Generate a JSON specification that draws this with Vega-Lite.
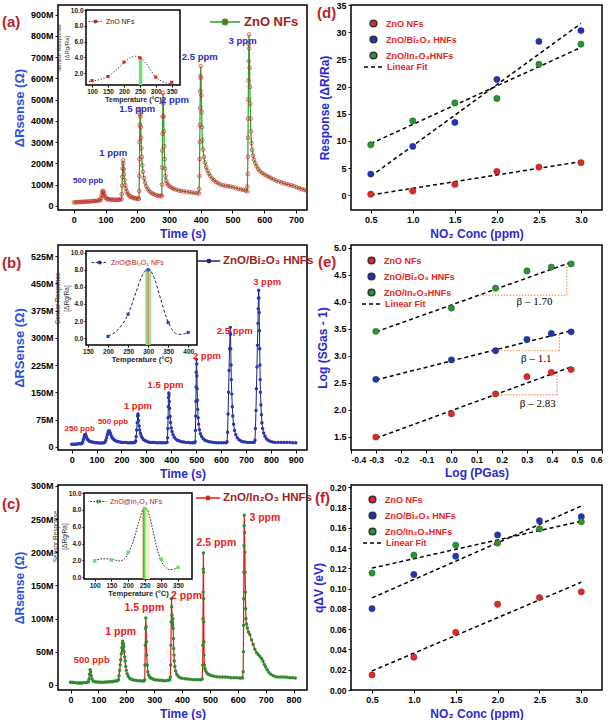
{
"$schema": "https://vega.github.io/schema/vega-lite/v6.json",
"padding": {"left": 1, "top": 0, "right": 0, "bottom": 0},
"bounds": "flush",
"columns": 2,
"spacing": {"row": 35, "column": 44},
"resolve": {"scale": {"color": "independent", "strokeDash": "independent", "stroke": "independent"}},
"datasets": {
"a": [{"t":0,"v":16},{"t":5,"v":16},{"t":10,"v":17},{"t":15,"v":17},{"t":20,"v":18},{"t":25,"v":18},{"t":30,"v":18},{"t":35,"v":19},{"t":40,"v":19},{"t":45,"v":20},{"t":50,"v":20},{"t":55,"v":21},{"t":60,"v":22},{"t":65,"v":22},{"t":70,"v":23},{"t":75,"v":24},{"t":80,"v":25},{"t":84,"v":27},{"t":86,"v":36},{"t":88,"v":50},{"t":90,"v":63},{"t":91,"v":70},{"t":93,"v":67},{"t":95,"v":57},{"t":97,"v":47},{"t":100,"v":39},{"t":103,"v":34},{"t":107,"v":31},{"t":111,"v":30},{"t":116,"v":29},{"t":121,"v":29},{"t":126,"v":28},{"t":131,"v":28},{"t":136,"v":28},{"t":141,"v":29},{"t":146,"v":29},{"t":150,"v":30},{"t":151,"v":55},{"t":152,"v":95},{"t":153,"v":135},{"t":154,"v":175},{"t":155,"v":214},{"t":156,"v":198},{"t":157,"v":172},{"t":158,"v":148},{"t":160,"v":120},{"t":162,"v":97},{"t":164,"v":80},{"t":167,"v":66},{"t":170,"v":56},{"t":174,"v":48},{"t":178,"v":43},{"t":183,"v":40},{"t":188,"v":37},{"t":193,"v":35},{"t":198,"v":34},{"t":203,"v":33},{"t":205,"v":34},{"t":206,"v":70},{"t":206.5,"v":140},{"t":207,"v":220},{"t":207.5,"v":300},{"t":208,"v":380},{"t":208.5,"v":430},{"t":209,"v":454},{"t":210,"v":420},{"t":211,"v":370},{"t":212,"v":320},{"t":213,"v":270},{"t":214,"v":230},{"t":216,"v":190},{"t":218,"v":160},{"t":221,"v":130},{"t":224,"v":110},{"t":228,"v":92},{"t":233,"v":78},{"t":238,"v":68},{"t":244,"v":61},{"t":250,"v":56},{"t":256,"v":52},{"t":262,"v":49},{"t":268,"v":46},{"t":274,"v":45},{"t":277,"v":48},{"t":278,"v":100},{"t":278.5,"v":180},{"t":279,"v":260},{"t":279.5,"v":340},{"t":280,"v":420},{"t":280.5,"v":490},{"t":281,"v":532},{"t":282,"v":480},{"t":283,"v":420},{"t":284,"v":350},{"t":285,"v":280},{"t":286,"v":220},{"t":287,"v":175},{"t":289,"v":140},{"t":291,"v":118},{"t":294,"v":105},{"t":298,"v":96},{"t":303,"v":90},{"t":309,"v":84},{"t":315,"v":80},{"t":322,"v":76},{"t":330,"v":72},{"t":338,"v":70},{"t":346,"v":68},{"t":355,"v":66},{"t":364,"v":64},{"t":372,"v":62},{"t":380,"v":61},{"t":388,"v":59},{"t":394,"v":58},{"t":395,"v":80},{"t":396,"v":140},{"t":396.5,"v":220},{"t":397,"v":300},{"t":397.5,"v":380},{"t":398,"v":460},{"t":398.5,"v":540},{"t":399,"v":610},{"t":400,"v":657},{"t":401,"v":600},{"t":402,"v":520},{"t":403,"v":440},{"t":404,"v":370},{"t":405,"v":310},{"t":407,"v":265},{"t":410,"v":230},{"t":413,"v":203},{"t":417,"v":182},{"t":421,"v":166},{"t":425,"v":152},{"t":430,"v":140},{"t":436,"v":128},{"t":442,"v":120},{"t":448,"v":112},{"t":455,"v":106},{"t":462,"v":100},{"t":470,"v":96},{"t":478,"v":94},{"t":486,"v":92},{"t":494,"v":90},{"t":502,"v":87},{"t":510,"v":84},{"t":518,"v":80},{"t":526,"v":77},{"t":534,"v":75},{"t":541,"v":72},{"t":546,"v":68},{"t":547,"v":90},{"t":548,"v":150},{"t":548.5,"v":230},{"t":549,"v":320},{"t":549.5,"v":410},{"t":550,"v":500},{"t":550.5,"v":590},{"t":551,"v":680},{"t":551.5,"v":760},{"t":552,"v":806},{"t":553,"v":740},{"t":554,"v":650},{"t":555,"v":560},{"t":556,"v":480},{"t":557,"v":410},{"t":558,"v":350},{"t":560,"v":295},{"t":562,"v":262},{"t":565,"v":236},{"t":568,"v":216},{"t":572,"v":200},{"t":576,"v":186},{"t":581,"v":173},{"t":587,"v":162},{"t":594,"v":154},{"t":601,"v":147},{"t":608,"v":141},{"t":615,"v":136},{"t":622,"v":130},{"t":630,"v":124},{"t":638,"v":118},{"t":646,"v":114},{"t":654,"v":110},{"t":662,"v":106},{"t":670,"v":102},{"t":678,"v":99},{"t":686,"v":96},{"t":694,"v":92},{"t":702,"v":87},{"t":710,"v":83},{"t":718,"v":79},{"t":726,"v":75},{"t":734,"v":71}],
"b": [{"t":0,"v":7},{"t":6,"v":7},{"t":12,"v":7},{"t":18,"v":7},{"t":24,"v":8},{"t":30,"v":8},{"t":36,"v":8},{"t":41,"v":9},{"t":44,"v":13},{"t":47,"v":20},{"t":50,"v":27},{"t":52,"v":31},{"t":54,"v":34},{"t":56,"v":33},{"t":58,"v":29},{"t":61,"v":24},{"t":64,"v":20},{"t":68,"v":17},{"t":72,"v":15},{"t":77,"v":14},{"t":83,"v":13},{"t":89,"v":12},{"t":96,"v":11},{"t":103,"v":11},{"t":110,"v":10},{"t":117,"v":10},{"t":124,"v":10},{"t":130,"v":11},{"t":134,"v":13},{"t":137,"v":18},{"t":140,"v":25},{"t":143,"v":33},{"t":146,"v":40},{"t":149,"v":44},{"t":152,"v":43},{"t":155,"v":38},{"t":158,"v":32},{"t":161,"v":27},{"t":165,"v":23},{"t":169,"v":20},{"t":174,"v":17},{"t":180,"v":15},{"t":187,"v":14},{"t":194,"v":13},{"t":201,"v":12},{"t":209,"v":12},{"t":217,"v":12},{"t":225,"v":11},{"t":233,"v":11},{"t":241,"v":11},{"t":248,"v":11},{"t":254,"v":12},{"t":257,"v":16},{"t":259,"v":28},{"t":261,"v":46},{"t":263,"v":66},{"t":265,"v":84},{"t":266,"v":90},{"t":267,"v":86},{"t":269,"v":72},{"t":271,"v":57},{"t":273,"v":46},{"t":276,"v":37},{"t":279,"v":30},{"t":283,"v":25},{"t":288,"v":20},{"t":294,"v":17},{"t":300,"v":15},{"t":308,"v":13},{"t":316,"v":12},{"t":324,"v":12},{"t":332,"v":12},{"t":341,"v":11},{"t":350,"v":11},{"t":359,"v":11},{"t":368,"v":11},{"t":377,"v":11},{"t":383,"v":12},{"t":385,"v":25},{"t":386,"v":50},{"t":387,"v":80},{"t":388,"v":110},{"t":389,"v":135},{"t":390,"v":148},{"t":391,"v":142},{"t":392,"v":125},{"t":393,"v":106},{"t":395,"v":84},{"t":397,"v":67},{"t":400,"v":52},{"t":403,"v":42},{"t":407,"v":33},{"t":412,"v":26},{"t":418,"v":21},{"t":425,"v":18},{"t":433,"v":16},{"t":441,"v":14},{"t":450,"v":13},{"t":459,"v":12},{"t":468,"v":12},{"t":477,"v":11},{"t":486,"v":11},{"t":493,"v":11},{"t":496,"v":14},{"t":497,"v":45},{"t":498,"v":85},{"t":499,"v":125},{"t":499.5,"v":165},{"t":500,"v":205},{"t":501,"v":241},{"t":502,"v":228},{"t":503,"v":195},{"t":504,"v":160},{"t":505,"v":128},{"t":506,"v":103},{"t":508,"v":80},{"t":510,"v":62},{"t":513,"v":47},{"t":517,"v":36},{"t":522,"v":28},{"t":528,"v":22},{"t":535,"v":18},{"t":543,"v":16},{"t":551,"v":14},{"t":560,"v":13},{"t":570,"v":12},{"t":580,"v":11},{"t":590,"v":11},{"t":600,"v":11},{"t":610,"v":11},{"t":620,"v":11},{"t":624,"v":14},{"t":626,"v":40},{"t":628,"v":90},{"t":630,"v":150},{"t":632,"v":210},{"t":634,"v":270},{"t":636,"v":315},{"t":637,"v":329},{"t":638,"v":310},{"t":639,"v":270},{"t":640,"v":225},{"t":641,"v":185},{"t":643,"v":145},{"t":645,"v":110},{"t":647,"v":85},{"t":650,"v":62},{"t":654,"v":45},{"t":659,"v":33},{"t":665,"v":25},{"t":672,"v":19},{"t":680,"v":16},{"t":688,"v":14},{"t":697,"v":13},{"t":706,"v":12},{"t":715,"v":12},{"t":724,"v":12},{"t":733,"v":12},{"t":736,"v":18},{"t":738,"v":50},{"t":740,"v":100},{"t":742,"v":160},{"t":744,"v":220},{"t":746,"v":280},{"t":748,"v":340},{"t":749,"v":380},{"t":750,"v":410},{"t":751,"v":431},{"t":752,"v":410},{"t":753,"v":370},{"t":754,"v":320},{"t":755,"v":270},{"t":756,"v":225},{"t":757,"v":185},{"t":758,"v":150},{"t":760,"v":115},{"t":762,"v":88},{"t":764,"v":66},{"t":767,"v":50},{"t":771,"v":38},{"t":776,"v":29},{"t":782,"v":22},{"t":789,"v":18},{"t":797,"v":15},{"t":806,"v":13},{"t":816,"v":12},{"t":828,"v":12},{"t":840,"v":12},{"t":852,"v":12},{"t":864,"v":12},{"t":876,"v":12},{"t":888,"v":11},{"t":900,"v":11}],
"c": [{"t":0,"v":4},{"t":6,"v":4},{"t":12,"v":3.5},{"t":18,"v":3.5},{"t":24,"v":3},{"t":30,"v":3},{"t":36,"v":3},{"t":42,"v":3},{"t":48,"v":3.5},{"t":54,"v":3.5},{"t":60,"v":4},{"t":64,"v":5},{"t":66,"v":9},{"t":68,"v":16},{"t":70,"v":23},{"t":72,"v":20},{"t":74,"v":14},{"t":77,"v":9},{"t":81,"v":6},{"t":86,"v":5},{"t":92,"v":4.5},{"t":99,"v":4.5},{"t":106,"v":4},{"t":113,"v":4},{"t":120,"v":4},{"t":127,"v":4.5},{"t":134,"v":4.5},{"t":141,"v":5},{"t":148,"v":5},{"t":155,"v":5.5},{"t":162,"v":6},{"t":168,"v":6.5},{"t":172,"v":8},{"t":174,"v":14},{"t":176,"v":22},{"t":178,"v":30},{"t":180,"v":38},{"t":182,"v":47},{"t":184,"v":56},{"t":186,"v":63},{"t":187,"v":66},{"t":188,"v":60},{"t":189,"v":52},{"t":190,"v":62},{"t":191,"v":58},{"t":192,"v":50},{"t":194,"v":42},{"t":196,"v":36},{"t":198,"v":28},{"t":200,"v":22},{"t":203,"v":17},{"t":207,"v":13},{"t":212,"v":10},{"t":218,"v":8.5},{"t":225,"v":7.5},{"t":233,"v":7},{"t":241,"v":6.5},{"t":249,"v":6.5},{"t":257,"v":6},{"t":263,"v":6},{"t":266,"v":8},{"t":267,"v":30},{"t":268,"v":60},{"t":269,"v":85},{"t":270,"v":101},{"t":271,"v":88},{"t":272,"v":65},{"t":273,"v":45},{"t":275,"v":30},{"t":277,"v":20},{"t":280,"v":15},{"t":284,"v":12},{"t":289,"v":10},{"t":295,"v":9},{"t":302,"v":8},{"t":310,"v":7.5},{"t":318,"v":7},{"t":326,"v":7},{"t":334,"v":6.5},{"t":342,"v":6.5},{"t":350,"v":7},{"t":356,"v":8},{"t":358,"v":12},{"t":359,"v":30},{"t":360,"v":60},{"t":361,"v":95},{"t":362,"v":130},{"t":363,"v":118},{"t":364,"v":105},{"t":365,"v":95},{"t":366,"v":90},{"t":367,"v":100},{"t":368,"v":85},{"t":369,"v":70},{"t":370,"v":55},{"t":371,"v":45},{"t":372,"v":36},{"t":374,"v":28},{"t":377,"v":21},{"t":381,"v":16},{"t":386,"v":13},{"t":392,"v":11},{"t":400,"v":10},{"t":410,"v":9.5},{"t":420,"v":9},{"t":430,"v":8.5},{"t":440,"v":8},{"t":450,"v":8},{"t":460,"v":8},{"t":468,"v":8},{"t":472,"v":9},{"t":474,"v":30},{"t":474.5,"v":60},{"t":475,"v":100},{"t":475.5,"v":140},{"t":476,"v":175},{"t":476.5,"v":199},{"t":477,"v":170},{"t":477.5,"v":130},{"t":478,"v":95},{"t":478.5,"v":65},{"t":479,"v":45},{"t":480,"v":30},{"t":482,"v":25},{"t":485,"v":21},{"t":489,"v":18},{"t":494,"v":16},{"t":500,"v":15},{"t":507,"v":14},{"t":515,"v":13},{"t":525,"v":12.5},{"t":535,"v":12},{"t":545,"v":12},{"t":555,"v":12},{"t":565,"v":11.5},{"t":575,"v":11},{"t":585,"v":11},{"t":595,"v":11},{"t":605,"v":10.5},{"t":612,"v":10.5},{"t":617,"v":11},{"t":619,"v":20},{"t":620,"v":50},{"t":620.5,"v":90},{"t":621,"v":130},{"t":621.5,"v":170},{"t":622,"v":210},{"t":622.5,"v":240},{"t":623,"v":256},{"t":624,"v":230},{"t":625,"v":200},{"t":626,"v":170},{"t":627,"v":140},{"t":628,"v":115},{"t":629,"v":100},{"t":631,"v":92},{"t":634,"v":86},{"t":638,"v":80},{"t":643,"v":76},{"t":649,"v":68},{"t":655,"v":61},{"t":661,"v":54},{"t":667,"v":49},{"t":673,"v":46},{"t":679,"v":43},{"t":685,"v":40},{"t":690,"v":36},{"t":695,"v":31},{"t":700,"v":27},{"t":705,"v":23},{"t":711,"v":19},{"t":718,"v":16},{"t":727,"v":14},{"t":736,"v":12.5},{"t":746,"v":12},{"t":756,"v":12},{"t":766,"v":12},{"t":776,"v":11.5},{"t":786,"v":11},{"t":796,"v":11},{"t":806,"v":10.5}],
"aLab": [{"label":"500 ppb","t":45,"v":117},{"label":"1 ppm","t":124,"v":247},{"label":"1.5 ppm","t":200,"v":454},{"label":"2 ppm","t":319,"v":498},{"label":"2.5 ppm","t":397,"v":700},{"label":"3 ppm","t":532,"v":775}],
"bLab": [{"label":"250 ppb","t":32,"v":49},{"label":"500 ppb","t":166,"v":69},{"label":"1 ppm","t":266,"v":111},{"label":"1.5 ppm","t":377,"v":171},{"label":"2 ppm","t":543,"v":250},{"label":"2.5 ppm","t":655,"v":318},{"label":"3 ppm","t":785,"v":454}],
"cLab": [{"label":"500 ppb","t":76,"v":38},{"label":"1 ppm","t":180,"v":80},{"label":"1.5 ppm","t":265,"v":116},{"label":"2 ppm","t":416,"v":134},{"label":"2.5 ppm","t":523,"v":214},{"label":"3 ppm","t":697,"v":251}],
"aIn": [{"T":100,"r":1.05},{"T":150,"r":1.57},{"T":200,"r":3.4},{"T":250,"r":3.95},{"T":300,"r":1.5},{"T":350,"r":0.85}],
"aCurve": [{"T":90,"r":0.95},{"T":100,"r":1.0},{"T":125,"r":1.2},{"T":150,"r":1.6},{"T":175,"r":2.4},{"T":200,"r":3.3},{"T":220,"r":3.95},{"T":240,"r":4.15},{"T":255,"r":3.9},{"T":270,"r":3.2},{"T":285,"r":2.3},{"T":300,"r":1.5},{"T":320,"r":0.95},{"T":340,"r":0.7},{"T":355,"r":0.65}],
"bIn": [{"T":200,"r":0.2},{"T":250,"r":2.8},{"T":300,"r":8.0},{"T":350,"r":1.83},{"T":400,"r":0.66}],
"bCurve": [{"T":200,"r":0.25},{"T":225,"r":1.0},{"T":250,"r":2.8},{"T":270,"r":5.4},{"T":285,"r":7.3},{"T":300,"r":8.1},{"T":315,"r":7.1},{"T":330,"r":4.8},{"T":345,"r":2.5},{"T":360,"r":1.0},{"T":375,"r":0.45},{"T":390,"r":0.5},{"T":400,"r":0.7}],
"cIn": [{"T":100,"r":1.96},{"T":150,"r":2.04},{"T":200,"r":2.94},{"T":250,"r":8.16},{"T":300,"r":2.16},{"T":350,"r":1.18}],
"cCurve": [{"T":100,"r":2.0},{"T":125,"r":2.2},{"T":150,"r":2.15},{"T":175,"r":1.95},{"T":190,"r":2.2},{"T":200,"r":2.8},{"T":215,"r":4.2},{"T":230,"r":6.2},{"T":245,"r":8.0},{"T":252,"r":8.2},{"T":262,"r":7.6},{"T":275,"r":5.5},{"T":290,"r":3.0},{"T":300,"r":1.9},{"T":315,"r":1.1},{"T":325,"r":0.9},{"T":340,"r":1.0},{"T":350,"r":1.2}],
"d": [{"s":"ZnO NFs","c":0.5,"r":0.2},{"s":"ZnO NFs","c":1,"r":0.8},{"s":"ZnO NFs","c":1.5,"r":2.0},{"s":"ZnO NFs","c":2,"r":4.4},{"s":"ZnO NFs","c":2.5,"r":5.2},{"s":"ZnO NFs","c":3,"r":6.0},
{"s":"ZnO/Bi₂O₃ HNFs","c":0.5,"r":3.9},{"s":"ZnO/Bi₂O₃ HNFs","c":1,"r":9.0},{"s":"ZnO/Bi₂O₃ HNFs","c":1.5,"r":13.4},{"s":"ZnO/Bi₂O₃ HNFs","c":2,"r":21.3},{"s":"ZnO/Bi₂O₃ HNFs","c":2.5,"r":28.3},{"s":"ZnO/Bi₂O₃ HNFs","c":3,"r":30.3},
{"s":"ZnO/In₂O₃HNFs","c":0.5,"r":9.3},{"s":"ZnO/In₂O₃HNFs","c":1,"r":13.7},{"s":"ZnO/In₂O₃HNFs","c":1.5,"r":17.0},{"s":"ZnO/In₂O₃HNFs","c":2,"r":17.8},{"s":"ZnO/In₂O₃HNFs","c":2.5,"r":24.1},{"s":"ZnO/In₂O₃HNFs","c":3,"r":27.8}],
"dFit": [{"s":"ZnO NFs","c0":0.5,"r0":0.06,"c1":3,"r1":6.2},{"s":"ZnO/Bi₂O₃ HNFs","c0":0.5,"r0":3.5,"c1":3,"r1":31.6},{"s":"ZnO/In₂O₃HNFs","c0":0.5,"r0":9.5,"c1":3,"r1":27.2}],
"e": [{"s":"ZnO NFs","c":-0.301,"r":1.49},{"s":"ZnO NFs","c":0,"r":1.92},{"s":"ZnO NFs","c":0.176,"r":2.29},{"s":"ZnO NFs","c":0.301,"r":2.61},{"s":"ZnO NFs","c":0.398,"r":2.69},{"s":"ZnO NFs","c":0.477,"r":2.74},
{"s":"ZnO/Bi₂O₃ HNFs","c":-0.301,"r":2.56},{"s":"ZnO/Bi₂O₃ HNFs","c":0,"r":2.92},{"s":"ZnO/Bi₂O₃ HNFs","c":0.176,"r":3.09},{"s":"ZnO/Bi₂O₃ HNFs","c":0.301,"r":3.30},{"s":"ZnO/Bi₂O₃ HNFs","c":0.398,"r":3.41},{"s":"ZnO/Bi₂O₃ HNFs","c":0.477,"r":3.44},
{"s":"ZnO/In₂O₃HNFs","c":-0.301,"r":3.45},{"s":"ZnO/In₂O₃HNFs","c":0,"r":3.88},{"s":"ZnO/In₂O₃HNFs","c":0.176,"r":4.25},{"s":"ZnO/In₂O₃HNFs","c":0.301,"r":4.57},{"s":"ZnO/In₂O₃HNFs","c":0.398,"r":4.64},{"s":"ZnO/In₂O₃HNFs","c":0.477,"r":4.70}],
"eFit": [{"s":"ZnO NFs","c0":-0.3,"r0":1.47,"c1":0.477,"r1":2.79},{"s":"ZnO/Bi₂O₃ HNFs","c0":-0.3,"r0":2.55,"c1":0.477,"r1":3.46},{"s":"ZnO/In₂O₃HNFs","c0":-0.3,"r0":3.44,"c1":0.477,"r1":4.73}],
"eTri": [{"x0":0.113,"y0":4.12,"x1":0.46,"y1":4.12},{"x0":0.46,"y0":4.12,"x1":0.46,"y1":4.70},{"x0":0.185,"y0":3.09,"x1":0.43,"y1":3.09},{"x0":0.43,"y0":3.09,"x1":0.43,"y1":3.40},{"x0":0.185,"y0":2.27,"x1":0.421,"y1":2.27},{"x0":0.421,"y0":2.27,"x1":0.421,"y1":2.71}],
"eLab": [{"label":"β – 1.70","x":0.331,"y":3.99},{"label":"β – 1.1","x":0.338,"y":2.94},{"label":"β – 2.83","x":0.344,"y":2.10}],
"f": [{"s":"ZnO NFs","c":0.5,"r":0.0149},{"s":"ZnO NFs","c":1,"r":0.0324},{"s":"ZnO NFs","c":1.5,"r":0.0569},{"s":"ZnO NFs","c":2,"r":0.0846},{"s":"ZnO NFs","c":2.5,"r":0.0912},{"s":"ZnO NFs","c":3,"r":0.0969},
{"s":"ZnO/Bi₂O₃ HNFs","c":0.5,"r":0.0803},{"s":"ZnO/Bi₂O₃ HNFs","c":1,"r":0.114},{"s":"ZnO/Bi₂O₃ HNFs","c":1.5,"r":0.132},{"s":"ZnO/Bi₂O₃ HNFs","c":2,"r":0.153},{"s":"ZnO/Bi₂O₃ HNFs","c":2.5,"r":0.167},{"s":"ZnO/Bi₂O₃ HNFs","c":3,"r":0.171},
{"s":"ZnO/In₂O₃HNFs","c":0.5,"r":0.1154},{"s":"ZnO/In₂O₃HNFs","c":1,"r":0.133},{"s":"ZnO/In₂O₃HNFs","c":1.5,"r":0.143},{"s":"ZnO/In₂O₃HNFs","c":2,"r":0.145},{"s":"ZnO/In₂O₃HNFs","c":2.5,"r":0.159},{"s":"ZnO/In₂O₃HNFs","c":3,"r":0.166}],
"fFit": [{"s":"ZnO NFs","c0":0.5,"r0":0.0188,"c1":3,"r1":0.1064},{"s":"ZnO/Bi₂O₃ HNFs","c0":0.5,"r0":0.0909,"c1":3,"r1":0.1815},{"s":"ZnO/In₂O₃HNFs","c0":0.5,"r0":0.1203,"c1":3,"r1":0.1666}]
},
"concat": [
{
"width": 249, "height": 205,
"title": {"text": "(a)", "anchor": "start", "frame": "group", "orient": "top", "offset": 0, "baseline": "middle", "dx": -56, "dy": 32, "fontSize": 15, "fontWeight": "bold", "color": "#c0202a"},
"layer": [
 {"layer": [
  {"data": {"name": "a"}, "mark": {"type": "line", "strokeWidth": 1.2, "clip": true},
   "encoding": {
    "x": {"field": "t", "type": "quantitative", "scale": {"domain": [-50, 735], "nice": false, "zero": false}, "axis": {"values": [0,100,200,300,400,500,600,700], "tickCount": 40, "labelOverlap": false, "title": "Time (s)"}},
    "y": {"field": "v", "type": "quantitative", "scale": {"domain": [-20, 945], "nice": false, "zero": false}, "axis": {"values": [0,100,200,300,400,500,600,700,800,900], "tickCount": 40, "labelOverlap": false, "labelExpr": "datum.value == 0 ? '0' : datum.value + 'M'", "title": "ΔRsense (Ω)", "titleFontSize": 13, "titleColor": "#2f4fe0"}},
    "stroke": {"datum": "ZnO NFs", "type": "nominal", "scale": {"range": ["#2ca02c"]},
      "legend": {"orient": "none", "legendX": 151, "legendY": 1, "title": null, "symbolType": "M-1,0L1,0M0.18,0A0.18,0.18,0,1,1,-0.18,0A0.18,0.18,0,1,1,0.18,0", "symbolSize": 900, "symbolStrokeWidth": 1.5, "symbolFillColor": "#e02020", "labelFontSize": 13, "labelFontWeight": "bold", "labelColor": "#a51c1c", "labelOffset": 3, "padding": 0,
        "encode": {"symbols": {"update": {"fill": {"value": "#e02020"}}}}}}
   }},
  {"data": {"name": "a"}, "mark": {"type": "point", "filled": false, "color": "#d42020", "size": 14, "strokeWidth": 1, "clip": true},
   "encoding": {"x": {"field": "t", "type": "quantitative"}, "y": {"field": "v", "type": "quantitative"}}},
  {"data": {"name": "aLab"}, "mark": {"type": "text", "fontWeight": "bold", "color": "#2b2bc8"},
   "encoding": {"x": {"field": "t", "type": "quantitative"}, "y": {"field": "v", "type": "quantitative"}, "text": {"field": "label"},
     "size": {"condition": {"test": "indexof(datum.label, 'ppb') >= 0", "value": 8}, "value": 9.5}}}
 ]},
 {"layer": [
  {"data": {"values": [{}]}, "mark": {"type": "rect", "fill": "white", "stroke": "black", "strokeWidth": 1.5},
   "encoding": {
    "x": {"datum": 81, "type": "quantitative", "scale": {"domain": [81, 376], "range": [28, 122], "nice": false, "zero": false},
      "axis": {"orient": "bottom", "offset": -125, "values": [100,150,200,250,300,350], "tickCount": 40, "labelOverlap": false, "title": "Temperature (°C)", "titleFontSize": 7, "titleColor": "#222", "titlePadding": 1, "labelFontSize": 6.5, "labelColor": "#222", "tickSize": 2, "labelPadding": 1}},
    "x2": {"datum": 376},
    "y": {"datum": 0.5, "type": "quantitative", "scale": {"domain": [0.5, 10], "range": [80, 5], "nice": false, "zero": false},
      "axis": {"orient": "left", "offset": -28, "values": [2,4,6,8,10], "tickCount": 40, "labelOverlap": false, "title": ["Sensor Response", "[ΔRg/Ra]"], "titleFontSize": 6, "titleFontWeight": "normal", "titleColor": "#333", "titlePadding": 1, "labelFontSize": 6.5, "labelColor": "#222", "tickSize": 2, "labelPadding": 1}},
    "y2": {"datum": 10}
   }},
  {"data": {"values": [{}]}, "mark": {"type": "rule", "color": "#6ee06e", "strokeWidth": 3.5},
   "encoding": {"x": {"datum": 252, "type": "quantitative"}, "y": {"datum": 0.5, "type": "quantitative"}, "y2": {"datum": 3.95}}},
  {"data": {"name": "aCurve"}, "mark": {"type": "line", "strokeDash": [1.2, 1.8], "strokeWidth": 1, "interpolate": "monotone"},
   "encoding": {"x": {"field": "T", "type": "quantitative"}, "y": {"field": "r", "type": "quantitative"},
    "stroke": {"datum": "ZnO NFs", "type": "nominal", "scale": {"range": ["#333333"]},
      "legend": {"orient": "none", "legendX": 30, "legendY": 9, "title": null, "symbolType": "M-1,0L1,0M0.25,0A0.25,0.25,0,1,1,-0.25,0A0.25,0.25,0,1,1,0.25,0", "symbolSize": 200, "symbolStrokeWidth": 0.8, "symbolDash": [1.5, 1.5], "labelFontSize": 7, "labelColor": "#222", "labelFontWeight": "normal", "padding": 0, "labelOffset": 3,
        "encode": {"symbols": {"update": {"fill": {"value": "#e82020"}}}}}}}},
  {"data": {"name": "aIn"}, "mark": {"type": "square", "color": "#e82020", "size": 10, "opacity": 1},
   "encoding": {"x": {"field": "T", "type": "quantitative"}, "y": {"field": "r", "type": "quantitative"}}}
 ]}
],
"resolve": {"scale": {"x": "independent", "y": "independent", "stroke": "independent"}}
},
{
"width": 251, "height": 205,
"title": {"text": "(d)", "anchor": "start", "frame": "group", "orient": "top", "offset": 0, "baseline": "middle", "dx": -34, "dy": 27, "fontSize": 15, "fontWeight": "bold", "color": "#c0202a"},
"layer": [
 {"data": {"name": "dFit"}, "mark": {"type": "rule", "strokeWidth": 1.5, "color": "black"},
  "encoding": {
   "x": {"field": "c0", "type": "quantitative", "scale": {"domain": [0.265, 3.25], "nice": false, "zero": false}, "axis": {"values": [0.5,1,1.5,2,2.5,3], "tickCount": 40, "labelOverlap": false, "format": ".1f", "title": "NO₂ Conc (ppm)"}},
   "x2": {"field": "c1"},
   "y": {"field": "r0", "type": "quantitative", "scale": {"domain": [-2.7, 35], "nice": false, "zero": false}, "axis": {"values": [0,5,10,15,20,25,30,35], "tickCount": 40, "title": "Response (ΔR/Ra)", "labelOverlap": false}},
   "y2": {"field": "r1"},
   "detail": {"field": "s"},
   "strokeDash": {"datum": "Linear Fit", "type": "nominal", "scale": {"range": [[4, 3]]},
     "legend": {"orient": "none", "legendX": 12, "legendY": 51, "title": null, "symbolType": "stroke", "symbolStrokeColor": "black", "symbolSize": 400, "symbolStrokeWidth": 1.5, "labelFontSize": 9, "labelFontWeight": "bold", "labelColor": "#e8231f", "labelOffset": 2, "padding": 0}}
  }},
 {"data": {"name": "d"}, "mark": {"type": "circle", "size": 40, "opacity": 1, "stroke": "#333", "strokeWidth": 0.4},
  "encoding": {"x": {"field": "c", "type": "quantitative"}, "y": {"field": "r", "type": "quantitative"},
   "color": {"field": "s", "type": "nominal", "scale": {"domain": ["ZnO NFs", "ZnO/Bi₂O₃ HNFs", "ZnO/In₂O₃HNFs"], "range": ["#ee2222", "#2233bb", "#22992a"]},
     "legend": {"orient": "none", "legendX": 18, "legendY": 14, "title": null, "symbolSize": 45, "labelOffset": 8, "labelFontSize": 9, "labelFontWeight": "bold", "labelColor": "#e8231f", "padding": 0, "rowPadding": 3}}}}
]
},
{
"width": 249, "height": 205,
"title": {"text": "(b)", "anchor": "start", "frame": "group", "orient": "top", "offset": 0, "baseline": "middle", "dx": -56, "dy": 33, "fontSize": 15, "fontWeight": "bold", "color": "#c0202a"},
"layer": [
 {"layer": [
  {"data": {"name": "b"}, "mark": {"type": "line", "strokeWidth": 1, "clip": true},
   "encoding": {
    "x": {"field": "t", "type": "quantitative", "scale": {"domain": [-55, 945], "nice": false, "zero": false}, "axis": {"values": [0,100,200,300,400,500,600,700,800,900], "tickCount": 40, "title": "Time (s)", "labelOverlap": false}},
    "y": {"field": "v", "type": "quantitative", "scale": {"domain": [-9, 556], "nice": false, "zero": false}, "axis": {"values": [0,75,150,225,300,375,450,525], "tickCount": 40, "labelExpr": "datum.value == 0 ? '0' : datum.value + 'M'", "title": "ΔRSense (Ω)", "titleFontSize": 13, "titleColor": "#2f4fe0", "labelOverlap": false}},
    "stroke": {"datum": "ZnO/Bi₂O₃ HNFs", "type": "nominal", "scale": {"range": ["#1a237e"]},
      "legend": {"orient": "none", "legendX": 139, "legendY": 4, "title": null, "symbolType": "M-1,0L1,0M0.15,0A0.15,0.15,0,1,1,-0.15,0A0.15,0.15,0,1,1,0.15,0", "symbolSize": 500, "symbolStrokeWidth": 1.3, "labelFontSize": 11.5, "labelFontWeight": "bold", "labelColor": "#a51c1c", "labelOffset": 2, "padding": 0,
        "encode": {"symbols": {"update": {"fill": {"value": "#3040c0"}}}}}}
   }},
  {"data": {"name": "b"}, "mark": {"type": "circle", "color": "#2a35b5", "size": 12, "opacity": 1, "clip": true},
   "encoding": {"x": {"field": "t", "type": "quantitative"}, "y": {"field": "v", "type": "quantitative"}}},
  {"data": {"name": "bLab"}, "mark": {"type": "text", "fontWeight": "bold", "color": "#ee2020"},
   "encoding": {"x": {"field": "t", "type": "quantitative"}, "y": {"field": "v", "type": "quantitative"}, "text": {"field": "label"},
     "size": {"condition": {"test": "indexof(datum.label, 'ppb') >= 0", "value": 8}, "value": 9.5}}}
 ]},
 {"layer": [
  {"data": {"values": [{}]}, "mark": {"type": "rect", "fill": "white", "stroke": "black", "strokeWidth": 1.5},
   "encoding": {
    "x": {"datum": 145, "type": "quantitative", "scale": {"domain": [145, 422], "range": [28, 139], "nice": false, "zero": false},
      "axis": {"orient": "bottom", "offset": -105, "values": [150,200,250,300,350,400], "tickCount": 40, "labelOverlap": false, "title": "Temperature (°C)", "titleFontSize": 7.5, "titleColor": "#222", "titlePadding": 1, "labelFontSize": 6.5, "labelColor": "#222", "tickSize": 2, "labelPadding": 1}},
    "x2": {"datum": 422},
    "y": {"datum": -0.8, "type": "quantitative", "scale": {"domain": [-0.8, 10.2], "range": [100, 6], "nice": false, "zero": false},
      "axis": {"orient": "left", "offset": -28, "values": [0,2,4,6,8,10], "tickCount": 40, "labelOverlap": false, "title": ["Sensor Response", "[ΔRg/Ra]"], "titleFontSize": 6.5, "titleFontWeight": "normal", "titleColor": "#333", "titlePadding": 1, "labelFontSize": 6.5, "labelColor": "#222", "tickSize": 2, "labelPadding": 1}},
    "y2": {"datum": 10.2}
   }},
  {"data": {"values": [{}]}, "mark": {"type": "rect", "color": "#f3e9d6", "opacity": 1},
   "encoding": {"x": {"datum": 295, "type": "quantitative"}, "x2": {"datum": 305}, "y": {"datum": -0.8, "type": "quantitative"}, "y2": {"datum": 8.1}}},
  {"data": {"values": [{}]}, "mark": {"type": "rule", "color": "#55dd55", "strokeWidth": 1.2},
   "encoding": {"x": {"datum": 295, "type": "quantitative"}, "y": {"datum": -0.8, "type": "quantitative"}, "y2": {"datum": 8.1}}},
  {"data": {"values": [{}]}, "mark": {"type": "rule", "color": "#55dd55", "strokeWidth": 1.2},
   "encoding": {"x": {"datum": 305, "type": "quantitative"}, "y": {"datum": -0.8, "type": "quantitative"}, "y2": {"datum": 8.1}}},
  {"data": {"values": [{}]}, "mark": {"type": "rule", "color": "#e86a6a", "strokeWidth": 1.5},
   "encoding": {"x": {"datum": 300, "type": "quantitative"}, "y": {"datum": -0.8, "type": "quantitative"}, "y2": {"datum": 8.1}}},
  {"data": {"name": "bCurve"}, "mark": {"type": "line", "strokeDash": [3, 2], "strokeWidth": 1, "interpolate": "monotone"},
   "encoding": {"x": {"field": "T", "type": "quantitative"}, "y": {"field": "r", "type": "quantitative"},
    "stroke": {"datum": "ZnO@Bi₂O₃ NFs", "type": "nominal", "scale": {"range": ["#222244"]},
      "legend": {"orient": "none", "legendX": 33, "legendY": 9, "title": null, "symbolType": "M-1,0L1,0M0.22,0A0.22,0.22,0,1,1,-0.22,0A0.22,0.22,0,1,1,0.22,0", "symbolSize": 256, "symbolStrokeWidth": 0.9, "symbolDash": [2.5, 1.5], "labelFontSize": 7, "labelColor": "#b0202a", "labelFontWeight": "normal", "padding": 0, "labelOffset": 3,
        "encode": {"symbols": {"update": {"fill": {"value": "#2a35c5"}}}}}}}},
  {"data": {"name": "bIn"}, "mark": {"type": "square", "color": "#2a45d5", "size": 10, "opacity": 1},
   "encoding": {"x": {"field": "T", "type": "quantitative"}, "y": {"field": "r", "type": "quantitative"}}}
 ]}
],
"resolve": {"scale": {"x": "independent", "y": "independent", "stroke": "independent"}}
},
{
"width": 251, "height": 205,
"title": {"text": "(e)", "anchor": "start", "frame": "group", "orient": "top", "offset": 0, "baseline": "middle", "dx": -33, "dy": 33, "fontSize": 15, "fontWeight": "bold", "color": "#c0202a"},
"layer": [
 {"data": {"name": "eTri"}, "mark": {"type": "rule", "strokeWidth": 1.2, "color": "#f5934a", "strokeDash": [1.5, 1.5]},
  "encoding": {
   "x": {"field": "x0", "type": "quantitative", "scale": {"domain": [-0.4, 0.6], "nice": false, "zero": false}, "axis": {"values": [-0.4,-0.3,-0.2,-0.1,0,0.1,0.2,0.3,0.4,0.5,0.6], "tickCount": 40, "labelExpr": "replace(format(datum.value, '.1f'), '−', '-')", "labelOverlap": false, "labelFontSize": 8.5, "title": "Log (PGas)"}},
   "x2": {"field": "x1"},
   "y": {"field": "y0", "type": "quantitative", "scale": {"domain": [1.25, 5.05], "nice": false, "zero": false}, "axis": {"values": [1.5,2,2.5,3,3.5,4,4.5,5], "tickCount": 40, "format": ".1f", "labelOverlap": false, "title": "Log (SGas - 1)"}},
   "y2": {"field": "y1"}
  }},
 {"data": {"name": "eFit"}, "mark": {"type": "rule", "strokeWidth": 1.5, "color": "black"},
  "encoding": {
   "x": {"field": "c0", "type": "quantitative"}, "x2": {"field": "c1"},
   "y": {"field": "r0", "type": "quantitative"}, "y2": {"field": "r1"},
   "detail": {"field": "s"},
   "strokeDash": {"datum": "Linear Fit", "type": "nominal", "scale": {"range": [[4, 3]]},
     "legend": {"orient": "none", "legendX": 10, "legendY": 48, "title": null, "symbolType": "stroke", "symbolStrokeColor": "black", "symbolSize": 400, "symbolStrokeWidth": 1.5, "labelFontSize": 9, "labelFontWeight": "bold", "labelColor": "#e8231f", "labelOffset": 2, "padding": 0}}
  }},
 {"data": {"name": "e"}, "mark": {"type": "circle", "size": 40, "opacity": 1, "stroke": "#333", "strokeWidth": 0.4},
  "encoding": {"x": {"field": "c", "type": "quantitative"}, "y": {"field": "r", "type": "quantitative"},
   "color": {"field": "s", "type": "nominal", "scale": {"domain": ["ZnO NFs", "ZnO/Bi₂O₃ HNFs", "ZnO/In₂O₃HNFs"], "range": ["#ee2222", "#2233bb", "#22992a"]},
     "legend": {"orient": "none", "legendX": 16, "legendY": 11, "title": null, "symbolSize": 45, "labelOffset": 8, "labelFontSize": 9, "labelFontWeight": "bold", "labelColor": "#e8231f", "padding": 0, "rowPadding": 3}}}},
 {"data": {"name": "eLab"}, "mark": {"type": "text", "font": "Liberation Serif", "fontSize": 11, "color": "black"},
  "encoding": {"x": {"field": "x", "type": "quantitative"}, "y": {"field": "y", "type": "quantitative"}, "text": {"field": "label"}}}
]
},
{
"width": 249, "height": 205,
"title": {"text": "(c)", "anchor": "start", "frame": "group", "orient": "top", "offset": 0, "baseline": "middle", "dx": -56, "dy": 37, "fontSize": 15, "fontWeight": "bold", "color": "#c0202a"},
"layer": [
 {"layer": [
  {"data": {"name": "c"}, "mark": {"type": "line", "strokeWidth": 1.2, "clip": true},
   "encoding": {
    "x": {"field": "t", "type": "quantitative", "scale": {"domain": [-45, 848], "nice": false, "zero": false}, "axis": {"values": [0,100,200,300,400,500,600,700,800], "tickCount": 40, "title": "Time (s)", "labelOverlap": false}},
    "y": {"field": "v", "type": "quantitative", "scale": {"domain": [-7.6, 301.5], "nice": false, "zero": false}, "axis": {"values": [0,50,100,150,200,250,300], "tickCount": 40, "labelExpr": "datum.value == 0 ? '0' : datum.value + 'M'", "title": "ΔRsense (Ω)", "titleFontSize": 12, "titleColor": "#2f4fe0", "labelOverlap": false}},
    "stroke": {"datum": "ZnO/In₂O₃ HNFs", "type": "nominal", "scale": {"range": ["#e41a1c"]},
      "legend": {"orient": "none", "legendX": 137, "legendY": 0, "title": null, "symbolType": "M-1,0L1,0M0.15,0A0.15,0.15,0,1,1,-0.15,0A0.15,0.15,0,1,1,0.15,0", "symbolSize": 576, "symbolStrokeWidth": 1.3, "labelFontSize": 11.5, "labelFontWeight": "bold", "labelColor": "#a51c1c", "labelOffset": 2, "padding": 0,
        "encode": {"symbols": {"update": {"fill": {"value": "#2e9e2e"}}}}}}
   }},
  {"data": {"name": "c"}, "mark": {"type": "circle", "color": "#2e8b2e", "size": 12, "opacity": 1, "clip": true},
   "encoding": {"x": {"field": "t", "type": "quantitative"}, "y": {"field": "v", "type": "quantitative"}}},
  {"data": {"name": "cLab"}, "mark": {"type": "text", "fontWeight": "bold", "color": "#ee2020"},
   "encoding": {"x": {"field": "t", "type": "quantitative"}, "y": {"field": "v", "type": "quantitative"}, "text": {"field": "label"},
     "size": {"condition": {"test": "indexof(datum.label, 'ppb') >= 0", "value": 9.5}, "value": 10.5}}}
 ]},
 {"layer": [
  {"data": {"values": [{}]}, "mark": {"type": "rect", "fill": "white", "stroke": "black", "strokeWidth": 1.5},
   "encoding": {
    "x": {"datum": 68, "type": "quantitative", "scale": {"domain": [68, 392], "range": [26, 134], "nice": false, "zero": false},
      "axis": {"orient": "bottom", "offset": -111, "values": [100,150,200,250,300,350], "tickCount": 40, "labelOverlap": false, "title": "Temperature (°C)", "titleFontSize": 7.5, "titleColor": "#222", "titlePadding": 1, "labelFontSize": 6.5, "labelColor": "#222", "tickSize": 2, "labelPadding": 1}},
    "x2": {"datum": 392},
    "y": {"datum": -0.2, "type": "quantitative", "scale": {"domain": [-0.2, 10], "range": [94, 8], "nice": false, "zero": false},
      "axis": {"orient": "left", "offset": -26, "values": [0,2,4,6,8,10], "tickCount": 40, "labelOverlap": false, "title": ["Sensor Response", "[ΔRg/Ra]"], "titleFontSize": 6.5, "titleFontWeight": "normal", "titleColor": "#333", "titlePadding": 1, "labelFontSize": 6.5, "labelColor": "#222", "tickSize": 2, "labelPadding": 1}},
    "y2": {"datum": 10}
   }},
  {"data": {"values": [{}]}, "mark": {"type": "rect", "color": "#f8f4c8", "opacity": 1},
   "encoding": {"x": {"datum": 250, "type": "quantitative"}, "x2": {"datum": 266}, "y": {"datum": -0.2, "type": "quantitative"}, "y2": {"datum": 8.2}}},
  {"data": {"values": [{}]}, "mark": {"type": "rule", "color": "#e07030", "strokeWidth": 1.5},
   "encoding": {"x": {"datum": 246, "type": "quantitative"}, "y": {"datum": -0.2, "type": "quantitative"}, "y2": {"datum": 8.2}}},
  {"data": {"values": [{}]}, "mark": {"type": "rule", "color": "#55dd55", "strokeWidth": 1.5},
   "encoding": {"x": {"datum": 250, "type": "quantitative"}, "y": {"datum": -0.2, "type": "quantitative"}, "y2": {"datum": 8.2}}},
  {"data": {"name": "cCurve"}, "mark": {"type": "line", "strokeDash": [1.5, 1.5], "strokeWidth": 1, "interpolate": "monotone"},
   "encoding": {"x": {"field": "T", "type": "quantitative"}, "y": {"field": "r", "type": "quantitative"},
    "stroke": {"datum": "ZnO@In₂O₃ NFs", "type": "nominal", "scale": {"range": ["#222222"]},
      "legend": {"orient": "none", "legendX": 32, "legendY": 8, "title": null, "symbolType": "M-1,0L1,0M0.22,0A0.22,0.22,0,1,1,-0.22,0A0.22,0.22,0,1,1,0.22,0", "symbolSize": 256, "symbolStrokeWidth": 0.9, "symbolDash": [1.5, 1.5], "labelFontSize": 7, "labelColor": "#b0202a", "labelFontWeight": "normal", "padding": 0, "labelOffset": 3,
        "encode": {"symbols": {"update": {"fill": {"value": "#55dd55"}}}}}}}},
  {"data": {"name": "cIn"}, "mark": {"type": "square", "color": "#66e066", "size": 12, "opacity": 1},
   "encoding": {"x": {"field": "T", "type": "quantitative"}, "y": {"field": "r", "type": "quantitative"}}}
 ]}
],
"resolve": {"scale": {"x": "independent", "y": "independent", "stroke": "independent"}}
},
{
"width": 251, "height": 205,
"title": {"text": "(f)", "anchor": "start", "frame": "group", "orient": "top", "offset": 0, "baseline": "middle", "dx": -36, "dy": 30, "fontSize": 15, "fontWeight": "bold", "color": "#c0202a"},
"layer": [
 {"data": {"name": "fFit"}, "mark": {"type": "rule", "strokeWidth": 1.5, "color": "black"},
  "encoding": {
   "x": {"field": "c0", "type": "quantitative", "scale": {"domain": [0.249, 3.247], "nice": false, "zero": false}, "axis": {"values": [0.5,1,1.5,2,2.5,3], "tickCount": 40, "labelOverlap": false, "format": ".1f", "title": "NO₂ Conc (ppm)"}},
   "x2": {"field": "c1"},
   "y": {"field": "r0", "type": "quantitative", "scale": {"domain": [0, 0.2023], "nice": false, "zero": false}, "axis": {"values": [0,0.02,0.04,0.06,0.08,0.1,0.12,0.14,0.16,0.18,0.2], "tickCount": 40, "format": ".2f", "labelOverlap": false, "labelFontSize": 8.5, "title": "qΔV (eV)"}},
   "y2": {"field": "r1"},
   "detail": {"field": "s"},
   "strokeDash": {"datum": "Linear Fit", "type": "nominal", "scale": {"range": [[4, 3]]},
     "legend": {"orient": "none", "legendX": 11, "legendY": 47, "title": null, "symbolType": "stroke", "symbolStrokeColor": "black", "symbolSize": 400, "symbolStrokeWidth": 1.5, "labelFontSize": 9, "labelFontWeight": "bold", "labelColor": "#e8231f", "labelOffset": 2, "padding": 0}}
  }},
 {"data": {"name": "f"}, "mark": {"type": "circle", "size": 40, "opacity": 1, "stroke": "#333", "strokeWidth": 0.4},
  "encoding": {"x": {"field": "c", "type": "quantitative"}, "y": {"field": "r", "type": "quantitative"},
   "color": {"field": "s", "type": "nominal", "scale": {"domain": ["ZnO NFs", "ZnO/Bi₂O₃ HNFs", "ZnO/In₂O₃HNFs"], "range": ["#ee2222", "#2233bb", "#22992a"]},
     "legend": {"orient": "none", "legendX": 17, "legendY": 10, "title": null, "symbolSize": 45, "labelOffset": 8, "labelFontSize": 9, "labelFontWeight": "bold", "labelColor": "#e8231f", "padding": 0, "rowPadding": 3}}}}
]
}
],
"config": {
 "view": {"stroke": "black", "strokeWidth": 1.5},
 "font": "Liberation Sans",
 "axis": {"grid": false, "domain": false, "labelFontWeight": "bold", "labelColor": "black", "labelFontSize": 9, "tickColor": "black", "tickSize": 3, "titleColor": "#2a2ad0", "titleFontWeight": "bold", "titleFontSize": 12, "labelPadding": 2},
 "legend": {"padding": 0, "titlePadding": 0}
}
}
